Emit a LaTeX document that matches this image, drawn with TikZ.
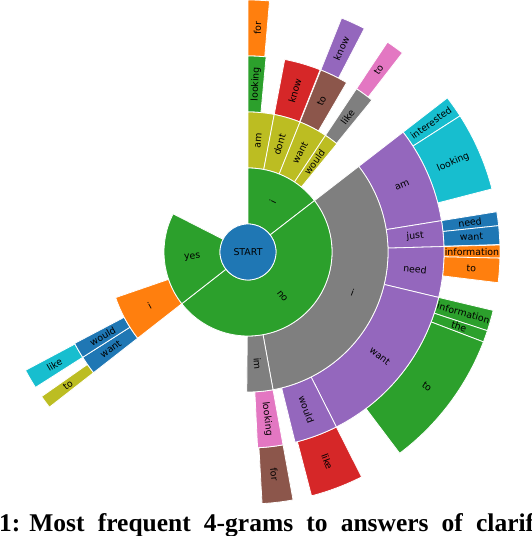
\documentclass[tikz,border=0pt]{standalone}
\usepackage{fontspec}
\newfontfamily\dejavu{DejaVu Sans}
\newfontfamily\capfont{Liberation Serif}
\definecolor{tc0}{HTML}{1F77B4}
\definecolor{tc1}{HTML}{FF7F0E}
\definecolor{tc2}{HTML}{2CA02C}
\definecolor{tc3}{HTML}{D62728}
\definecolor{tc4}{HTML}{9467BD}
\definecolor{tc5}{HTML}{8C564B}
\definecolor{tc6}{HTML}{E377C2}
\definecolor{tc7}{HTML}{7F7F7F}
\definecolor{tc8}{HTML}{BCBD22}
\definecolor{tc9}{HTML}{17BECF}
\tikzset{
  wedge/.style={draw=white, line width=0.8pt, line join=miter},
  lab/.style={font=\dejavu\fontsize{9.4}{10}\selectfont, inner sep=0pt, text=black},
}
\newcommand\wseg[6]{%
  \pgfmathsetmacro\wri{(#1-0.5)*56}%
  \pgfmathsetmacro\wro{(#1+0.5)*56}%
  \pgfmathsetmacro\wsa{90-(#2)}%
  \pgfmathsetmacro\wea{90-(#3)}%
  \pgfmathsetmacro\wmd{90-((#2)+(#3))/2}%
  \pgfmathsetmacro\wrot{90-mod(((#2)+(#3))/2,180)}%
  \pgfmathsetmacro\wrm{(#1)*56}%
  \filldraw[wedge, fill=#4] (\wsa:\wri pt) -- (\wsa:\wro pt) arc[start angle=\wsa, end angle=\wea, radius=\wro pt] -- (\wea:\wri pt) arc[start angle=\wea, end angle=\wsa, radius=\wri pt] -- cycle;
  \node[lab, rotate=\wrot] (#6) at (\wmd:\wrm pt) {#5};
}
\begin{document}
\begin{tikzpicture}[x=1pt,y=1pt]
\useasboundingbox (0,0) rectangle (532,536);
\begin{scope}[shift={(248,284)}]
% level 4
\wseg{4}{0}{4.9}{tc1}{for}{l4for}
\wseg{4}{21.8}{27.5}{tc4}{know}{l4know}
\wseg{4}{33.6}{37.8}{tc6}{to}{l4to}
\wseg{4}{52.3}{57.3}{tc9}{interested}{l4interested}
\wseg{4}{57.3}{75.5}{tc9}{looking}{l4looking}
\wseg{4}{80.8}{84}{tc0}{need}{l4need}
\wseg{4}{84}{88.3}{tc0}{want}{l4want}
\wseg{4}{88.4}{91.4}{tc1}{information}{l4infoA}
\wseg{4}{91.4}{97}{tc1}{to}{l4toA}
\wseg{4}{103.4}{108.2}{tc2}{information}{l4infoB}
\wseg{4}{108.2}{110.9}{tc2}{the}{l4the}
\wseg{4}{110.9}{143}{tc2}{to}{l4toB}
\wseg{4}{153.2}{165.4}{tc3}{like}{l4like}
\wseg{4}{169.7}{176.8}{tc5}{for}{l4forB}
\wseg{4}{232}{235}{tc8}{to}{l4toC}
\wseg{4}{237.5}{242}{tc9}{like}{l4likeC}
% level 3
\wseg{3}{0}{5.3}{tc2}{looking}{l3looking}
\wseg{3}{10.8}{21.6}{tc3}{know}{l3know}
\wseg{3}{21.8}{30.2}{tc5}{to}{l3to}
\wseg{3}{33.6}{39.2}{tc7}{like}{l3like}
\wseg{3}{52.3}{80.8}{tc4}{am}{l3am}
\wseg{3}{80.8}{88.4}{tc4}{just}{l3just}
\wseg{3}{88.4}{103.4}{tc4}{need}{l3need}
\wseg{3}{103.4}{153.2}{tc4}{want}{l3want}
\wseg{3}{153.2}{166.1}{tc4}{would}{l3would}
\wseg{3}{169.7}{177.2}{tc6}{looking}{l3lookingB}
\wseg{3}{232}{237.5}{tc0}{want}{l3wantC}
\wseg{3}{237.5}{242.2}{tc0}{would}{l3wouldC}
% level 2
\wseg{2}{0}{10.8}{tc8}{am}{l2am}
\wseg{2}{10.8}{21.8}{tc8}{dont}{l2dont}
\wseg{2}{21.8}{33.6}{tc8}{want}{l2want}
\wseg{2}{33.6}{39.4}{tc8}{would}{l2would}
\wseg{2}{52.3}{169.7}{tc7}{i}{l2i}
\wseg{2}{169.7}{180.5}{tc7}{im}{l2im}
\wseg{2}{232}{251}{tc1}{i}{l2iC}
% level 1
\wseg{1}{0}{52.3}{tc2}{i}{l1i}
\wseg{1}{52.3}{232}{tc2}{no}{l1no}
\wseg{1}{232}{297}{tc2}{yes}{l1yes}
% centre
\filldraw[wedge, fill=tc0] (0,0) circle (28pt);
\node[lab] (start) at (0,0) {START};
\end{scope}
\begin{scope}
\clip (0,0) rectangle (532,536);
\node[anchor=base west, inner sep=0pt] (caption) at (-1,5)
  {\capfont\bfseries\fontsize{25.5}{28}\selectfont\makebox[535pt][s]{1:\kern9pt Most frequent 4-grams to answers of clarif}};
\end{scope}
\end{tikzpicture}
\end{document}
